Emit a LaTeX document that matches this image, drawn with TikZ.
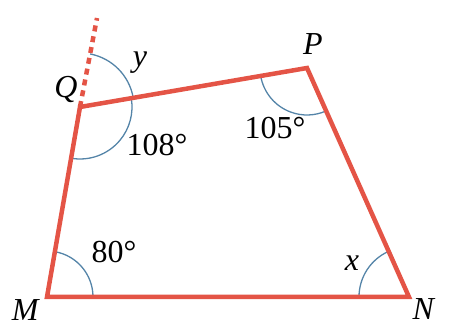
\documentclass[tikz,border=0pt]{standalone}
\usepackage{fontspec}
\setmainfont{Liberation Serif}
\definecolor{sidered}{RGB}{228, 84, 70}
\definecolor{arcblue}{RGB}{84, 132, 168}
\usetikzlibrary{angles, calc}

\begin{document}
\begin{tikzpicture}[x=1pt, y=1pt,
    side/.style={sidered, line width=4.5pt, line join=miter},
    anglearc/.style={draw=arcblue, line width=1.3pt},
    lbl/.style={font=\fontsize{32}{36}\selectfont}]
    \useasboundingbox (0,0) rectangle (468,329);
    % vertices
    \coordinate (M) at (47, 32);
    \coordinate (N) at (409, 32);
    \coordinate (P) at (307, 261);
    \coordinate (Q) at (80, 222);
    \coordinate (T) at (97, 311);
    % angle arcs
    \pic[anglearc, angle radius=46pt] {angle = N--M--Q};
    \pic[anglearc, angle radius=50pt] {angle = P--N--M};
    \pic[anglearc, angle radius=47pt] {angle = Q--P--N};
    \pic[anglearc, angle radius=52pt] {angle = M--Q--P};
    \pic[anglearc, angle radius=54pt] {angle = P--Q--T};
    % sides
    \draw[side, dash pattern=on 6pt off 5pt] (Q) -- (T);
    \draw[side] (M) -- (N) -- (P) -- (Q) -- cycle;
    % labels
    \node[lbl] (lM) at (26, 19) {\textit{M}};
    \node[lbl] (lN) at (424, 20) {\textit{N}};
    \node[lbl] (lP) at (313, 285) {\textit{P}};
    \node[lbl] (lQ) at (66, 239) {\textit{Q}};
    \node[lbl] (ly) at (140, 266) {\textit{y}};
    \node[lbl] (lx) at (352, 66) {\textit{x}};
    \node[lbl] (a80) at (114, 77) {80°};
    \node[lbl] (a108) at (157, 184) {108°};
    \node[lbl] (a105) at (275, 201) {105°};
\end{tikzpicture}
\end{document}
